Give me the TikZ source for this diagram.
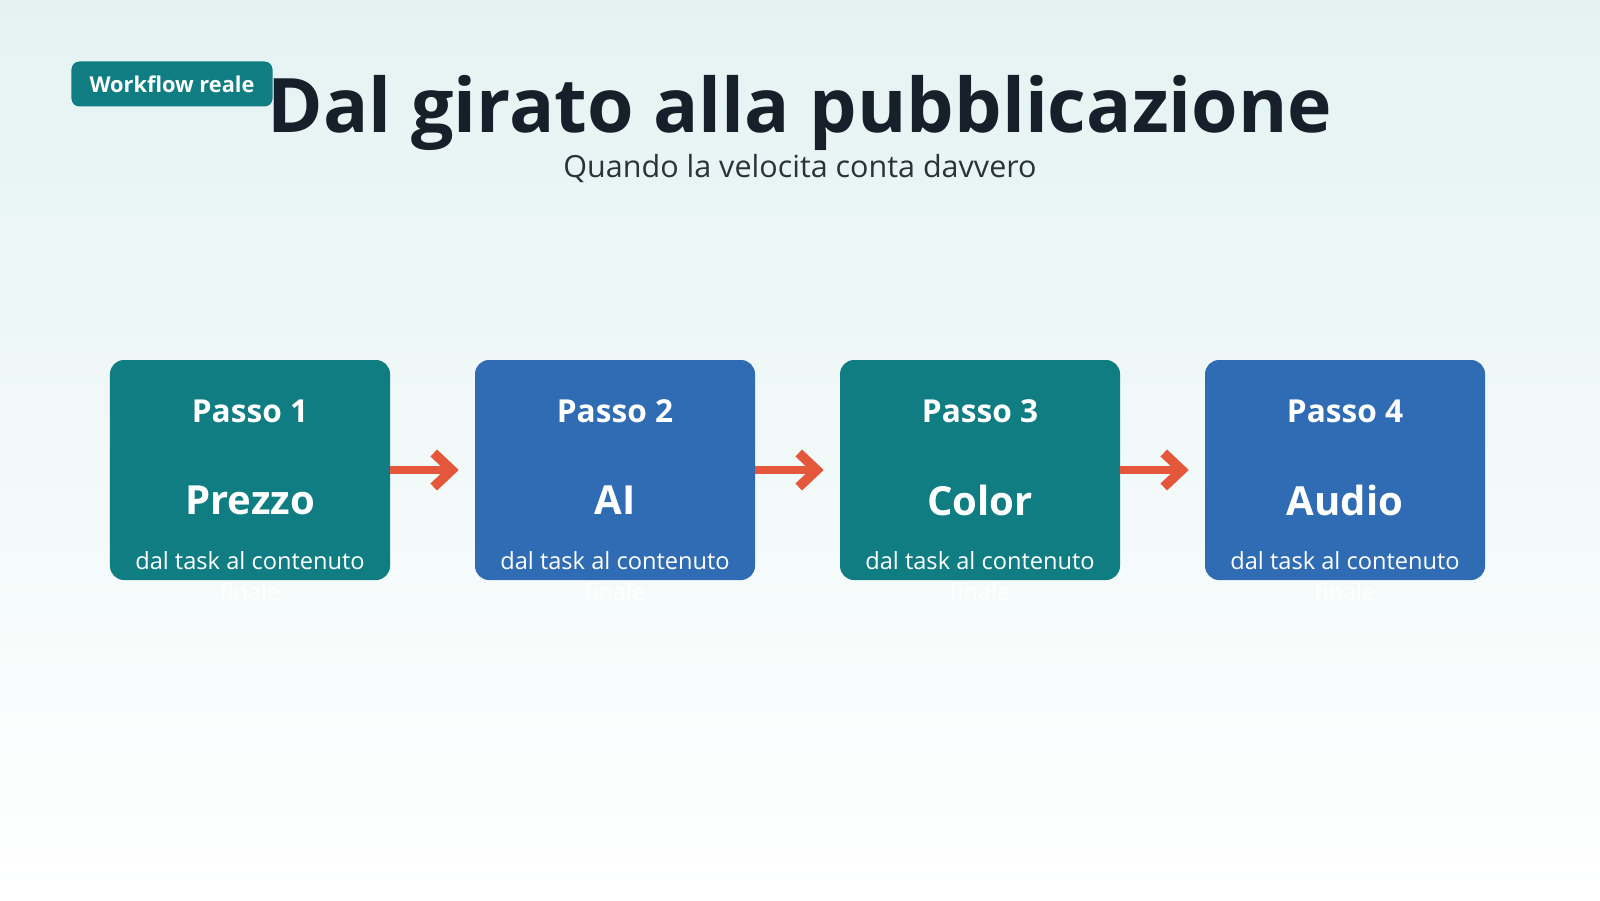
\documentclass[tikz,border=0pt]{standalone}
\usepackage{fontspec}
\setmainfont{Open Sans}
\usetikzlibrary{positioning,arrows.meta}

\definecolor{tealbox}{HTML}{107D83}
\definecolor{bluebox}{HTML}{306CB4}
\definecolor{flowred}{HTML}{E5573A}
\definecolor{titleink}{HTML}{17202A}
\definecolor{subink}{HTML}{2A323A}
\definecolor{bgtop}{HTML}{E4F3F2}

\tikzset{
  stepbox/.style={rounded corners=3.5mm, minimum width=70mm, minimum height=55mm, inner sep=0pt},
  passo/.style={text=white, font=\fontsize{22.5}{27}\selectfont\bfseries},
  stepname/.style={text=white, font=\fontsize{28.5}{34}\selectfont\bfseries},
  stepdesc/.style={text=white, font=\fontsize{16.8}{20}\selectfont},
  flow/.style={-{Straight Barb[length=4.5mm,width=8.5mm,line width=2.4mm]}, draw=flowred, line width=2.1mm, shorten >=4mm}
}

\begin{document}
\begin{tikzpicture}[x=0.25mm,y=-0.25mm,node distance=91.25mm,on grid]
    % background
    \shade[top color=bgtop, bottom color=white] (0,0) rectangle (1600,900);
    \useasboundingbox (0,0) rectangle (1600,900);

    % header
    \node[fill=tealbox, rounded corners=2mm, minimum width=50.25mm, minimum height=11.25mm,
          text=white, font=\fontsize{15.5}{19}\selectfont\bfseries] (badge) at (172,84) {Workflow reale};
    \node[anchor=base, text=titleink, font=\fontsize{53.5}{62}\selectfont\bfseries] (title) at (800,133) {Dal girato alla pubblicazione};
    \node[anchor=base, text=subink, font=\fontsize{21.7}{26}\selectfont] (subtitle) at (800,177) {Quando la velocita conta davvero};

    % steps
    \node[stepbox, fill=tealbox] (p1) at (250,470) {};
    \node[stepbox, fill=bluebox] (p2) [right=of p1] {};
    \node[stepbox, fill=tealbox] (p3) [right=of p2] {};
    \node[stepbox, fill=bluebox] (p4) [right=of p3] {};

    \node[passo] (n1) [above=14.75mm of p1] {Passo 1};
    \node[passo] (n2) [above=14.75mm of p2] {Passo 2};
    \node[passo] (n3) [above=14.75mm of p3] {Passo 3};
    \node[passo] (n4) [above=14.75mm of p4] {Passo 4};

    \node[stepname] (s1) [below=7.5mm of p1] {Prezzo};
    \node[stepname] (s2) [below=7.5mm of p2] {AI};
    \node[stepname] (s3) [below=7.5mm of p3] {Color};
    \node[stepname] (s4) [below=7.5mm of p4] {Audio};

    \node[stepdesc] (d1) [below=22.75mm of p1] {dal task al contenuto};
    \node[stepdesc] (d2) [below=22.75mm of p2] {dal task al contenuto};
    \node[stepdesc] (d3) [below=22.75mm of p3] {dal task al contenuto};
    \node[stepdesc] (d4) [below=22.75mm of p4] {dal task al contenuto};

    \node[stepdesc] (f1) [below=7.75mm of d1] {finale};
    \node[stepdesc] (f2) [below=7.75mm of d2] {finale};
    \node[stepdesc] (f3) [below=7.75mm of d3] {finale};
    \node[stepdesc] (f4) [below=7.75mm of d4] {finale};

    \draw[flow] (p1) -- (p2);
    \draw[flow] (p2) -- (p3);
    \draw[flow] (p3) -- (p4);
\end{tikzpicture}
\end{document}
